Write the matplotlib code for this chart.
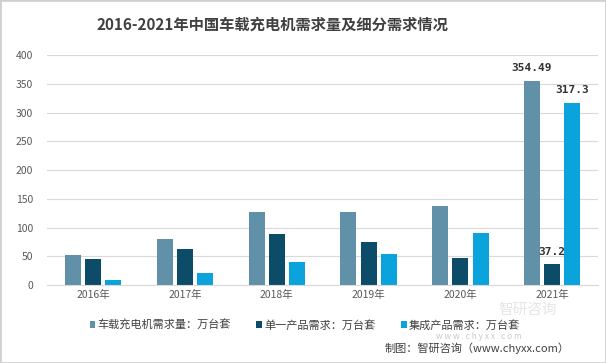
import numpy as np
import matplotlib.pyplot as plt
from matplotlib.patches import Rectangle

plt.rcParams['font.family'] = ['Noto Sans CJK SC', 'DejaVu Sans']

# data
years = ['2016年', '2017年', '2018年', '2019年', '2020年', '2021年']
total = [52, 80, 127, 127, 138, 354.49]
single = [45, 62, 89, 75, 47, 37.2]
integrated = [8, 20, 40, 54, 91, 317.3]
series_names = ['车载充电机需求量：万台套', '单一产品需求：万台套', '集成产品需求：万台套']
colors = ['#6191A8', '#0C4C69', '#0AA3DC']

fig = plt.figure(figsize=(6.06, 3.63), dpi=100)
fig.patches.append(Rectangle((0, 0), 1, 1, transform=fig.transFigure,
                             fill=False, edgecolor='#d0d0d0', lw=2))
ax = fig.add_axes([0.078, 0.215, 0.909, 0.633])

x = np.arange(len(years))
w = 0.175
off = 0.22
b1 = ax.bar(x - off, total, w, color=colors[0], label=series_names[0])
b2 = ax.bar(x, single, w, color=colors[1], label=series_names[1])
b3 = ax.bar(x + off, integrated, w, color=colors[2], label=series_names[2])

# labels on 2021 only
lab_kw = dict(ha='center', va='bottom', fontsize=8, fontweight='bold',
              family='DejaVu Sans Mono', color='#333333')
ax.text(x[-1] - off, total[-1] + 14, f'{total[-1]:g}', **lab_kw)
ax.text(x[-1], single[-1] + 12, f'{single[-1]:g}', **lab_kw)
ax.text(x[-1] + off, integrated[-1] + 14, f'{integrated[-1]:g}', **lab_kw)

ax.set_xlim(-0.5, 5.5)
ax.set_ylim(0, 400)
ax.set_yticks(range(0, 401, 50))
ax.set_xticks(x)
ax.set_xticklabels(years)
ax.grid(axis='y', color='#d9d9d9', lw=0.8)
ax.set_axisbelow(True)
for s in ['top', 'right', 'left']:
    ax.spines[s].set_visible(False)
ax.spines['bottom'].set_color('#d9d9d9')
ax.tick_params(length=0, labelsize=7.5, colors='#595959')
ax.tick_params(axis='y', pad=10)

fig.text(0.45, 0.932, '2016-2021年中国车载充电机需求量及细分需求情况',
         ha='center', va='center', fontsize=11, fontweight='bold', color='#404040')

# watermark
fig.text(0.87, 0.146, '智研咨询', ha='center', va='center', fontsize=10.5,
         color='#c8ccd2', alpha=0.5)
fig.text(0.79, 0.072, 'w w w . c h y x x . c o m', ha='center', va='center',
         fontsize=6, color='#b8bcc4', alpha=0.8)

fig.legend(handles=[b1, b2, b3], loc='center', bbox_to_anchor=(0.503, 0.105),
           ncol=3, frameon=False, fontsize=8, handlelength=0.5, handleheight=0.5,
           handletextpad=0.2, columnspacing=2.3, labelcolor='#404040')

fig.text(0.94, 0.04, '制图：智研咨询（www.chyxx.com）', ha='right', va='center',
         fontsize=8, color='#404040')

fig.savefig('out.png', dpi=100)
